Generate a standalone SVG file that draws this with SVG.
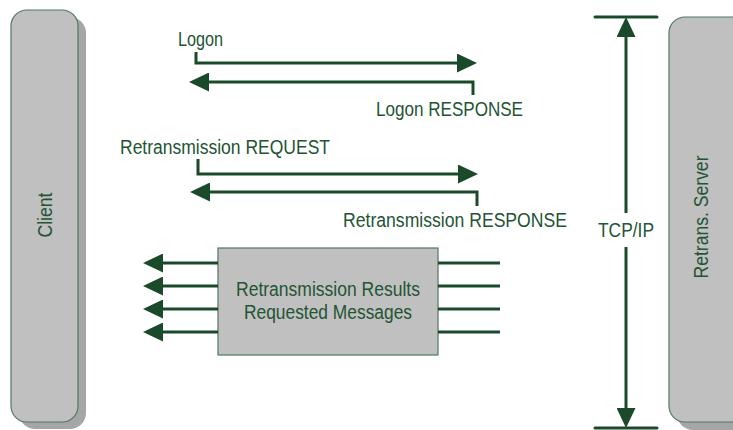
<svg xmlns="http://www.w3.org/2000/svg" width="733" height="430" viewBox="0 0 733 430">
<style>
  text { font-family: "Liberation Sans", Arial, sans-serif; font-size: 19.5px; fill: #235434; }
  .box { fill: #c0c0c0; stroke: #4e7a5e; stroke-width: 1.2; }
  .shadow { fill: #a6a6a6; stroke: none; }
  .conn { fill: none; stroke: #1a4a2a; stroke-width: 3; }
  .bar { stroke: #1a4a2a; stroke-width: 3; stroke-linecap: round; }
</style>
<defs>
  <marker id="ah" viewBox="0 0 20 19" markerWidth="20" markerHeight="19" refX="4" refY="9.5" orient="auto" markerUnits="userSpaceOnUse">
    <path d="M0,0 L20,9.5 L0,19 z" fill="#1a4a2a"/>
  </marker>
</defs>

<g id="client">
  <rect class="shadow" x="19" y="17" width="67" height="412" rx="16"/>
  <rect class="box" x="11" y="10" width="67" height="412" rx="16"/>
  <text transform="translate(52,215) rotate(-90)" text-anchor="middle" textLength="45" lengthAdjust="spacingAndGlyphs">Client</text>
</g>

<g id="server">
  <rect class="shadow" x="677" y="24" width="80" height="406" rx="16"/>
  <rect class="box" x="669" y="17" width="80" height="405" rx="16"/>
  <text transform="translate(708,217) rotate(-90)" text-anchor="middle" textLength="123" lengthAdjust="spacingAndGlyphs">Retrans. Server</text>
</g>

<g id="results">
  <rect class="box" x="218" y="248" width="220" height="107" stroke-width="1.5"/>
  <text x="328" y="296" text-anchor="middle" textLength="184" lengthAdjust="spacingAndGlyphs">Retransmission Results</text>
  <text x="328" y="319" text-anchor="middle" textLength="168" lengthAdjust="spacingAndGlyphs">Requested Messages</text>
</g>

<g id="labels">
  <text x="178" y="46" textLength="45" lengthAdjust="spacingAndGlyphs">Logon</text>
  <text x="523" y="116" text-anchor="end" textLength="147" lengthAdjust="spacingAndGlyphs">Logon RESPONSE</text>
  <text x="120" y="154" textLength="210" lengthAdjust="spacingAndGlyphs">Retransmission REQUEST</text>
  <text x="567" y="227" text-anchor="end" textLength="224" lengthAdjust="spacingAndGlyphs">Retransmission RESPONSE</text>
  <text x="626" y="237" text-anchor="middle" textLength="56" lengthAdjust="spacingAndGlyphs">TCP/IP</text>
</g>

<g id="connectors">
  <path class="conn" d="M196,52 V63 H461" marker-end="url(#ah)"/>
  <path class="conn" d="M473,95 V82 H205" marker-end="url(#ah)"/>
  <path class="conn" d="M198,159 V174 H462" marker-end="url(#ah)"/>
  <path class="conn" d="M477,206 V192 H206" marker-end="url(#ah)"/>

  <path class="conn" d="M218,263 H159" marker-end="url(#ah)"/>
  <path class="conn" d="M218,286 H159" marker-end="url(#ah)"/>
  <path class="conn" d="M218,309 H159" marker-end="url(#ah)"/>
  <path class="conn" d="M218,332 H159" marker-end="url(#ah)"/>
  <path class="conn" d="M438,263 H500"/>
  <path class="conn" d="M438,286 H500"/>
  <path class="conn" d="M438,309 H500"/>
  <path class="conn" d="M438,332 H500"/>

  <line class="bar" x1="595" y1="17" x2="657" y2="17"/>
  <line class="bar" x1="595" y1="428" x2="657" y2="428"/>
  <path class="conn" d="M626,213 V33" marker-end="url(#ah)"/>
  <path class="conn" d="M626,247 V412" marker-end="url(#ah)"/>
</g>
</svg>
